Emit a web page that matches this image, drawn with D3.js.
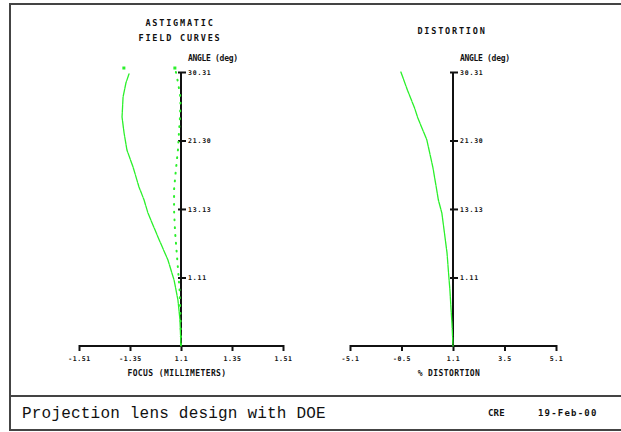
<!DOCTYPE html>
<html>
<head>
<meta charset="utf-8">
<script src="https://cdn.jsdelivr.net/npm/d3@7"></script>
<style>
  body { margin: 0; background: #fff; }
  svg { display: block; }
  .small { font-family: "DejaVu Sans Mono", monospace; font-weight: bold; fill: #111; }
</style>
</head>
<body>
<div id="chart"></div>
<script>
// field angle (deg) shared by both plots
const maxAngle = 30.31;
const angleTicks = [7.58, 15.16, 22.73, 30.31];
const angleLabels = ["1.11", "13.13", "21.30", "30.31"];

// astigmatic field curves: [angle, focus mm]
const tangential = [
    [30.09, -0.255], [29.09, -0.270], [27.54, -0.284], [25.33, -0.289], [23.56, -0.279],
    [21.68, -0.265], [19.80, -0.235], [17.59, -0.206], [16.15, -0.181], [14.71, -0.162],
    [12.06, -0.113], [9.51, -0.064], [7.30, -0.034], [5.09, -0.015], [2.88, -0.005], [0, 0]
];
const sagittal = [
    [30.31, -0.025], [29.2, -0.015], [27.4, -0.002], [25.3, -0.005], [23.6, -0.010],
    [21.7, -0.015], [19.5, -0.025], [17.3, -0.034], [15.0, -0.034], [12.6, -0.029],
    [10.6, -0.022], [8.6, -0.015], [6.2, -0.007], [2.9, -0.002], [0, 0]
];
// end markers at top of each curve: [angle, focus]
const focusMarkers = [[30.75, -0.280], [30.75, -0.030]];
const focusTicks = [-0.5, -0.25, 0, 0.25, 0.5];
const focusLabels = ["-1.51", "-1.35", "1.1", "1.35", "1.51"];

// distortion: [angle, %]
const distortion = [
    [30.31, -2.53], [28.3, -2.21], [26.3, -1.86], [25.3, -1.72], [22.8, -1.27],
    [19.8, -0.98], [17.8, -0.83], [16.15, -0.71], [14.7, -0.54], [12.06, -0.39],
    [10.3, -0.29], [7.6, -0.20], [6.2, -0.15], [4.3, -0.10], [2.5, -0.05], [0, 0]
];
const distTicks = [-5, -2.5, 0, 2.5, 5];
const distLabels = ["-5.1", "-0.5", "1.1", "3.5", "5.1"];

const W = 621, H = 432;
const green = "#2bf02b";

const svg = d3.select("#chart").append("svg")
    .attr("width", W)
    .attr("height", H);

// frame
svg.append("path")
    .attr("d", `M${W + 2},4 H10 V430 H${W + 2} M10,396 H${W + 2}`)
    .attr("fill", "none")
    .attr("stroke", "#444")
    .attr("stroke-width", 2);

const y = d3.scaleLinear().domain([0, maxAngle]).range([346, 72]);

function drawPanel(opts) {
    let x = d3.scaleLinear().domain(opts.domain).range(opts.range);
    let g = svg.append("g");

    // x axis along the bottom
    let xAxis = g.append("g")
        .attr("transform", "translate(0,346)")
        .call(d3.axisBottom(x).tickValues(opts.ticks).tickSize(5)
            .tickFormat((d, i) => opts.labels[i]));
    xAxis.select(".domain").attr("stroke", "#111").attr("stroke-width", 2)
        .attr("d", `M${opts.range[0]},0H${opts.range[1]}`);
    xAxis.selectAll(".tick line").attr("stroke", "#111").attr("stroke-width", 2).attr("y1", -1);
    xAxis.selectAll(".tick text")
        .attr("class", "small")
        .attr("y", 10)
        .style("font-size", "6.5px")
        .style("letter-spacing", "0.6px");

    // y axis through zero
    let yAxis = g.append("g")
        .attr("transform", `translate(${x(0)},0)`)
        .call(d3.axisRight(y).tickValues(angleTicks).tickSize(5)
            .tickFormat((d, i) => angleLabels[i]));
    yAxis.select(".domain").attr("stroke", "#111").attr("stroke-width", 2)
        .attr("d", `M0,${y(maxAngle)}V346`);
    yAxis.selectAll(".tick line").attr("stroke", "#111").attr("stroke-width", 2).attr("x1", -3);
    yAxis.selectAll(".tick text")
        .attr("class", "small")
        .attr("x", 7)
        .style("font-size", "6.5px")
        .style("letter-spacing", "0.8px");

    g.append("text")
        .attr("class", "small")
        .attr("x", x(0) + 7)
        .attr("y", 61)
        .style("font-size", "8px")
        .style("letter-spacing", "-0.3px")
        .text("ANGLE (deg)");

    // titles
    opts.title.forEach(function (t, i) {
        g.append("text")
            .attr("class", "small")
            .attr("x", opts.titleX)
            .attr("y", opts.titleY + i * 15)
            .attr("text-anchor", "middle")
            .style("font-size", "8.5px")
            .style("letter-spacing", "1.8px")
            .text(t);
    });

    g.append("text")
        .attr("class", "small")
        .attr("x", x(0) - 4)
        .attr("y", 376)
        .attr("text-anchor", "middle")
        .style("font-size", "8px")
        .style("letter-spacing", "0.4px")
        .text(opts.xLabel);

    let line = d3.line().x(d => x(d[1])).y(d => y(d[0]));
    opts.curves.forEach(function (c) {
        g.append("path")
            .datum(c.data)
            .attr("d", line)
            .attr("fill", "none")
            .attr("stroke", green)
            .attr("stroke-width", c.width)
            .attr("stroke-dasharray", c.dash)
            .attr("stroke-linecap", "round");
    });

    if (opts.markers) {
        g.selectAll(".marker")
            .data(opts.markers)
            .enter()
            .append("rect")
            .attr("class", "marker")
            .attr("x", d => x(d[1]) - 1.5)
            .attr("y", d => y(d[0]) - 1.5)
            .attr("width", 3)
            .attr("height", 3)
            .attr("fill", green);
    }
}

drawPanel({
    domain: [-0.5, 0.5], range: [79, 283],
    ticks: focusTicks, labels: focusLabels,
    title: ["ASTIGMATIC", "FIELD CURVES"], titleX: 180, titleY: 26,
    xLabel: "FOCUS (MILLIMETERS)",
    curves: [
        {data: tangential, width: 1.3, dash: "7,1"},
        {data: sagittal, width: 2, dash: "0.8,7"}
    ],
    markers: focusMarkers
});

drawPanel({
    domain: [-5, 5], range: [350, 556],
    ticks: distTicks, labels: distLabels,
    title: ["DISTORTION"], titleX: 452, titleY: 34,
    xLabel: "% DISTORTION",
    curves: [
        {data: distortion, width: 1.3, dash: "7,1"}
    ]
});

// footer
svg.append("text")
    .attr("x", 22)
    .attr("y", 418)
    .style("font-family", "'Liberation Mono', monospace")
    .style("font-size", "16px")
    .style("letter-spacing", "0.2px")
    .attr("fill", "#111")
    .text("Projection lens design with DOE");

svg.append("text")
    .attr("class", "small")
    .attr("x", 488)
    .attr("y", 416)
    .style("font-size", "9px")
    .style("letter-spacing", "0.2px")
    .text("CRE");

svg.append("text")
    .attr("class", "small")
    .attr("x", 538)
    .attr("y", 416)
    .style("font-size", "9px")
    .style("letter-spacing", "1.2px")
    .text("19-Feb-00");
</script>
</body>
</html>
